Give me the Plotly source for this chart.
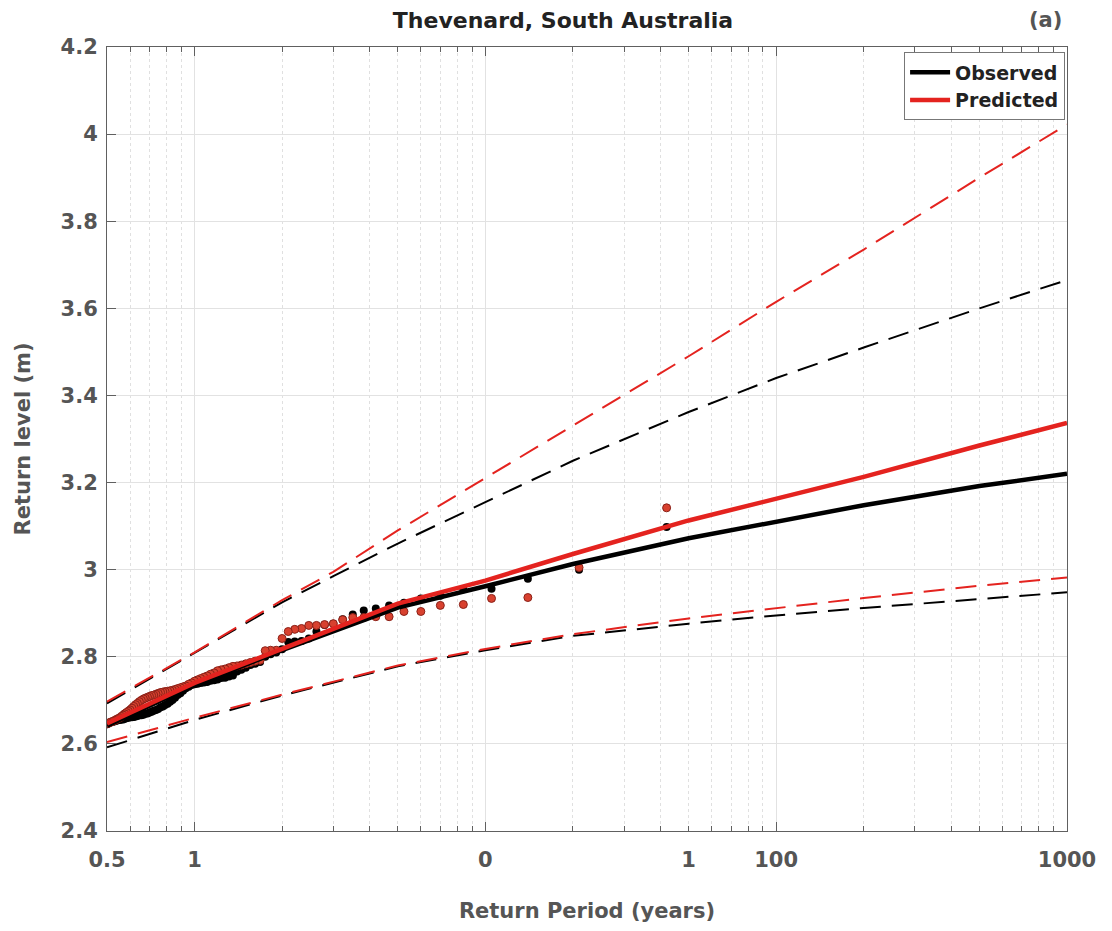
import math
import plotly.graph_objects as go

# Empirical return periods (years) of the ranked events
event_period = [
    42.0, 21.0, 14.0, 10.5, 8.4, 7.0, 6.0, 5.25, 4.667, 4.2,
    3.818, 3.5, 3.231, 3.0, 2.8, 2.625, 2.471, 2.333, 2.211, 2.1,
    2.0, 1.909, 1.826, 1.75, 1.68, 1.615, 1.556, 1.5, 1.448, 1.4,
    1.355, 1.313, 1.273, 1.235, 1.2, 1.167, 1.135, 1.105, 1.077, 1.05,
    1.024, 1.0, 0.977, 0.955, 0.933, 0.913, 0.894, 0.875, 0.857, 0.84,
    0.824, 0.808, 0.792, 0.778, 0.764, 0.75, 0.737, 0.724, 0.712, 0.7,
    0.689, 0.677, 0.667, 0.656, 0.646, 0.636, 0.627, 0.618, 0.609, 0.6,
    0.592, 0.583, 0.575, 0.568, 0.56, 0.553, 0.545, 0.538, 0.532, 0.525,
    0.519, 0.512, 0.506, 0.5,
]

# Observed sea levels (m) for those events
observed_level = [
    3.098, 3.000, 2.979, 2.956, 2.955, 2.940, 2.934, 2.924, 2.918, 2.911,
    2.906, 2.897, 2.886, 2.876, 2.873, 2.858, 2.842, 2.836, 2.835, 2.834,
    2.817, 2.810, 2.806, 2.800, 2.788, 2.784, 2.781, 2.775, 2.770, 2.766,
    2.757, 2.755, 2.752, 2.751, 2.748, 2.746, 2.745, 2.742, 2.741, 2.740,
    2.738, 2.737, 2.735, 2.731, 2.728, 2.722, 2.716, 2.712, 2.706, 2.701,
    2.697, 2.692, 2.689, 2.686, 2.684, 2.680, 2.678, 2.676, 2.674, 2.672,
    2.670, 2.669, 2.667, 2.666, 2.666, 2.664, 2.663, 2.662, 2.661, 2.661,
    2.660, 2.659, 2.658, 2.656, 2.656, 2.655, 2.654, 2.653, 2.652, 2.651,
    2.650, 2.649, 2.647, 2.645,
]

# Predicted sea levels (m) for the same events
predicted_level = [
    3.142, 3.005, 2.936, 2.934, 2.920, 2.918, 2.904, 2.904, 2.892, 2.892,
    2.890, 2.890, 2.885, 2.876, 2.874, 2.872, 2.872, 2.865, 2.863, 2.858,
    2.842, 2.815, 2.815, 2.814, 2.792, 2.790, 2.787, 2.784, 2.781, 2.779,
    2.778, 2.775, 2.772, 2.770, 2.768, 2.763, 2.760, 2.756, 2.753, 2.750,
    2.747, 2.744, 2.740, 2.737, 2.733, 2.731, 2.729, 2.727, 2.725, 2.723,
    2.722, 2.721, 2.720, 2.719, 2.718, 2.716, 2.714, 2.712, 2.711, 2.709,
    2.707, 2.705, 2.703, 2.700, 2.697, 2.693, 2.690, 2.686, 2.682, 2.678,
    2.675, 2.672, 2.669, 2.666, 2.663, 2.660, 2.658, 2.656, 2.654, 2.652,
    2.651, 2.649, 2.648, 2.646,
]

# Fitted return-level curves and their confidence bounds
fit_period = [0.5, 1, 2, 3, 5, 10, 20, 50, 100, 200, 500, 1000]
observed_fit = [2.642, 2.736, 2.815, 2.858, 2.913, 2.962, 3.013, 3.072, 3.110, 3.148, 3.192, 3.220]
predicted_fit = [2.647, 2.740, 2.818, 2.864, 2.922, 2.975, 3.036, 3.113, 3.162, 3.213, 3.285, 3.337]
observed_upper = [2.693, 2.810, 2.925, 2.985, 3.060, 3.155, 3.250, 3.362, 3.440, 3.510, 3.600, 3.665]
predicted_upper = [2.697, 2.810, 2.930, 2.995, 3.090, 3.210, 3.330, 3.490, 3.615, 3.735, 3.900, 4.022]
observed_lower = [2.592, 2.655, 2.711, 2.740, 2.778, 2.815, 2.848, 2.876, 2.895, 2.912, 2.933, 2.948]
predicted_lower = [2.604, 2.660, 2.713, 2.742, 2.780, 2.818, 2.852, 2.888, 2.912, 2.935, 2.963, 2.982]

# Axis ticks
x_tick_vals = [0.5, 1, 10, 50, 100, 1000]
x_tick_text = ["0.5", "1", "0", "1", "100", "1000"]
x_major_vals = [1, 10, 100, 1000]
x_minor_vals = [0.6, 0.7, 0.8, 0.9, 2, 3, 4, 5, 6, 7, 8, 9,
                20, 30, 40, 50, 60, 70, 80, 90,
                200, 300, 400, 500, 600, 700, 800, 900]

BLACK = "#000000"
RED = "#e4231f"
AXIS = "#606060"
LABEL = "#555555"
FONT = "DejaVu Sans"
DASH = "21px,11px"

fig = go.Figure()

fig.add_trace(go.Scatter(
    x=event_period, y=observed_level, mode="markers",
    marker=dict(color=BLACK, size=8), showlegend=False, hoverinfo="skip"))
fig.add_trace(go.Scatter(
    x=event_period, y=predicted_level, mode="markers",
    marker=dict(color="#d8412f", size=8, line=dict(color="#8a2118", width=1)),
    showlegend=False, hoverinfo="skip"))

fig.add_trace(go.Scatter(
    x=fit_period, y=observed_fit, mode="lines", name="Observed",
    line=dict(color=BLACK, width=4.5)))
fig.add_trace(go.Scatter(
    x=fit_period, y=predicted_fit, mode="lines", name="Predicted",
    line=dict(color=RED, width=4.5)))

# Confidence bounds live on the overlaid log axis that carries ticks and grid
for ys, col in [(observed_upper, BLACK), (observed_lower, BLACK),
                (predicted_upper, RED), (predicted_lower, RED)]:
    fig.add_trace(go.Scatter(
        x=fit_period, y=ys, mode="lines", showlegend=False, xaxis="x2",
        line=dict(color=col, width=2, dash=DASH)))

x_range = [math.log10(0.5), 3]

fig.update_layout(
    width=1112, height=931,
    margin=dict(l=107, r=45, t=47, b=98),
    paper_bgcolor="white", plot_bgcolor="white",
    font=dict(family=FONT, color=LABEL),
    title=dict(text="Thevenard, South Australia", x=563 / 1112, xanchor="center",
               xref="container", y=1 - 20 / 931, yanchor="middle",
               font=dict(size=22, color="#222222", weight="bold")),
    xaxis=dict(
        type="log", range=x_range, tickvals=x_tick_vals, ticktext=x_tick_text,
        ticks="", showgrid=False, zeroline=False,
        showline=True, linecolor=AXIS, linewidth=1, mirror=True,
        tickfont=dict(size=21, color=LABEL, weight="bold"),
        ticklabelstandoff=10,
        title=dict(text="Return Period (years)", standoff=32,
                   font=dict(size=21, color=LABEL, weight="bold")),
    ),
    xaxis2=dict(
        type="log", range=x_range, overlaying="x", anchor="y", side="bottom",
        tickvals=x_major_vals, showticklabels=False,
        ticks="inside", ticklen=9, tickcolor=AXIS,
        showline=True, linecolor=AXIS, mirror="allticks",
        showgrid=True, gridcolor="#e2e2e2", gridwidth=1, zeroline=False,
        minor=dict(tickvals=x_minor_vals, ticks="inside", ticklen=5, tickcolor=AXIS,
                   showgrid=True, gridcolor="#e0e0e0", griddash="dot", gridwidth=1),
    ),
    yaxis=dict(
        range=[2.4, 4.2], tick0=2.4, dtick=0.2,
        ticks="inside", ticklen=9, tickcolor=AXIS,
        showline=True, linecolor=AXIS, linewidth=1, mirror=True,
        showgrid=True, gridcolor="#e2e2e2", gridwidth=1, zeroline=False,
        tickfont=dict(size=21, color=LABEL, weight="bold"),
        ticklabelstandoff=4,
        title=dict(text="Return level (m)", standoff=24,
                   font=dict(size=21, color=LABEL, weight="bold")),
    ),
    legend=dict(
        x=0.998, xanchor="right", y=0.993, yanchor="top",
        bgcolor="white", bordercolor="#777777", borderwidth=1,
        font=dict(size=19, color="#222222", weight="bold"),
        itemwidth=40, tracegroupgap=0,
        entrywidth=130, entrywidthmode="pixels",
    ),
    annotations=[dict(
        text="(a)", xref="paper", yref="paper",
        x=(1045 - 107) / 960, y=(833 - 20) / 786,
        xanchor="center", yanchor="middle", showarrow=False,
        font=dict(size=21, color=LABEL, weight="bold"))],
)

fig.write_html("out.html")
